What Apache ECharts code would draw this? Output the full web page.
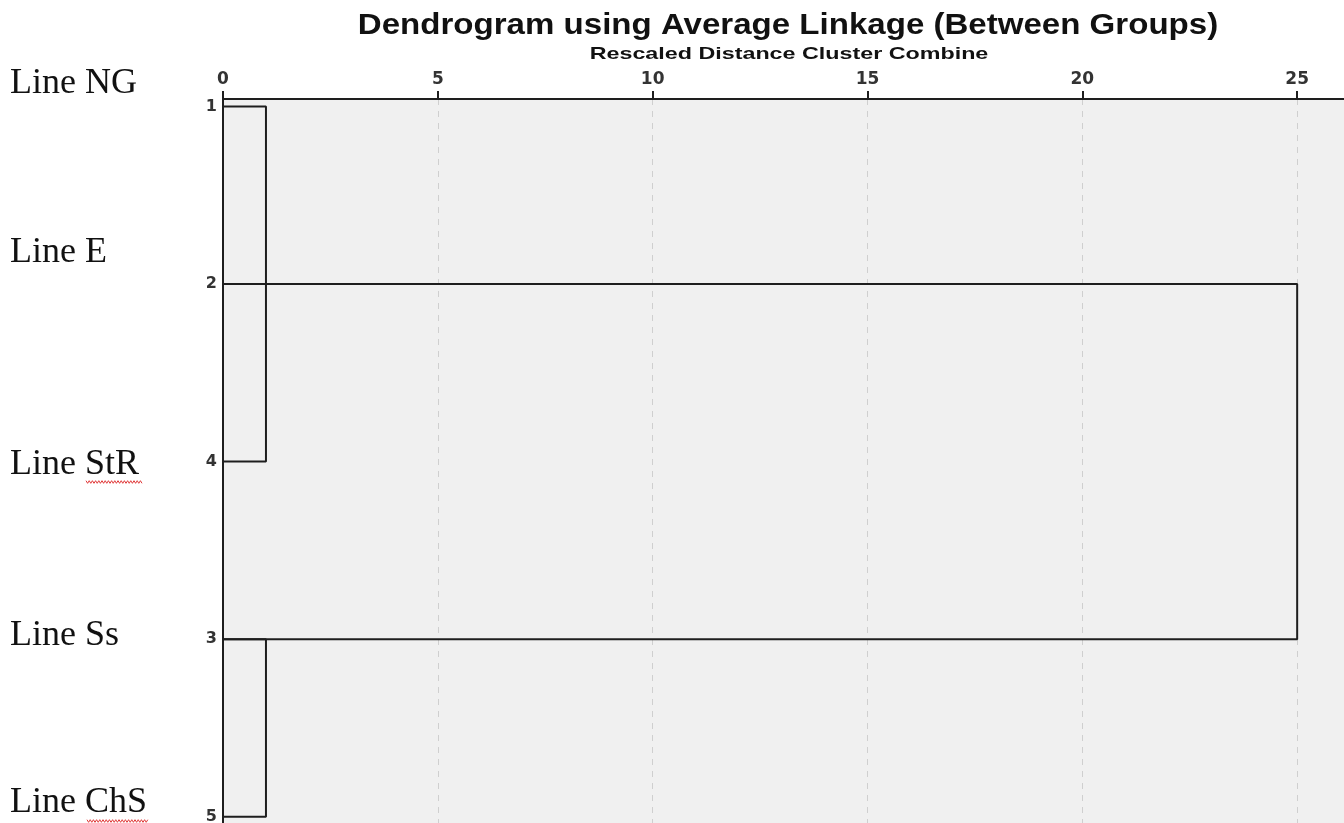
<!DOCTYPE html>
<html>
<head>
<meta charset="utf-8">
<title>Dendrogram</title>
<script src="https://cdn.jsdelivr.net/npm/echarts@6/dist/echarts.min.js"></script>
<style>
	html, body { margin: 0; padding: 0; background: #fff; }
	#chart { width: 1344px; height: 823px; }
</style>
</head>
<body>
<div id="chart"></div>
<script>
	// case ids in dendrogram order (top to bottom) and their names
	const caseIds = ['1', '2', '4', '3', '5']
	const caseNames = ['Line NG', 'Line E', 'Line StR', 'Line Ss', 'Line ChS']
	// rescaled distance ticks
	const distTicks = [0, 5, 10, 15, 20, 25]
	// merges: rows (index in caseIds) joined, at rescaled distance
	const mergeRowsA = [0, 3, 1]
	const mergeRowsB = [2, 4, 3]
	const mergeDist = [1.0, 1.0, 25]

	const chart = echarts.init(document.getElementById('chart'), null, { renderer: 'canvas' })

	const series = mergeDist.map((d, i) => {
		return {
			type: 'line',
			showSymbol: false,
			silent: true,
			lineStyle: { color: '#1e1e1e', width: 2 },
			data: [
				[0, mergeRowsA[i]],
				[d, mergeRowsA[i]],
				[d, mergeRowsB[i]],
				[0, mergeRowsB[i]]
			],
			z: 5
		}
	})

	function wavy(x0, x1, y) {
		let pts = []
		let i = 0
		for (let x = x0; x <= x1; x += 1.6) {
			pts.push([x, y + (i % 2 ? 1.3 : -1.3)])
			i++
		}
		return pts
	}

	// left-hand case names (pasted labels in the original)
	const nameY = [84, 253, 465, 636, 803]
	const graphics = caseNames.map((name, i) => {
		return {
			type: 'text',
			x: 10,
			y: nameY[i],
			style: {
				text: name,
				font: '36px "Liberation Serif", "Times New Roman", serif',
				fill: '#111',
				textAlign: 'left',
				textVerticalAlign: 'middle'
			}
		}
	})

	graphics.push({
		type: 'text',
		x: 788,
		y: 26,
		scaleX: 1.14,
		style: {
			text: 'Dendrogram using Average Linkage (Between Groups)',
			font: 'bold 29px "Liberation Sans", Arial, sans-serif',
			fill: '#111',
			textAlign: 'center',
			textVerticalAlign: 'middle'
		}
	})
	graphics.push({
		type: 'text',
		x: 789,
		y: 54,
		scaleX: 1.37,
		style: {
			text: 'Rescaled Distance Cluster Combine',
			font: 'bold 17px "Liberation Sans", Arial, sans-serif',
			fill: '#111',
			textAlign: 'center',
			textVerticalAlign: 'middle'
		}
	})
	graphics.push({
		type: 'polyline',
		shape: { points: wavy(86, 142, 482) },
		style: { stroke: '#e03a3a', lineWidth: 1, fill: null }
	})
	graphics.push({
		type: 'polyline',
		shape: { points: wavy(87, 149, 821) },
		style: { stroke: '#e03a3a', lineWidth: 1, fill: null }
	})

	chart.setOption({
		animation: false,
		grid: {
			left: 223,
			top: 99,
			right: 0,
			bottom: 0,
			containLabel: false,
			outerBoundsMode: 'none',
			show: true,
			backgroundColor: '#f0f0f0',
			borderWidth: 0
		},
		xAxis: {
			type: 'value',
			position: 'top',
			min: 0,
			max: 26.09,
			interval: 5,
			axisLine: { show: true, onZero: false, lineStyle: { color: '#1e1e1e', width: 2 } },
			axisTick: {
				show: true,
				length: 8,
				customValues: distTicks,
				lineStyle: { color: '#1e1e1e', width: 2 }
			},
			axisLabel: {
				customValues: distTicks,
				margin: 11,
				color: '#333',
				fontSize: 17,
				fontWeight: 'bold',
				fontFamily: '"DejaVu Sans", Arial, sans-serif'
			},
			splitLine: {
				show: true,
				lineStyle: { color: '#cfcfcf', type: [6, 6], width: 1 }
			}
		},
		yAxis: {
			type: 'value',
			inverse: true,
			min: -0.042,
			max: 4.035,
			axisLine: { show: true, onZero: false, lineStyle: { color: '#1e1e1e', width: 2 } },
			axisTick: { show: false },
			axisLabel: {
				customValues: [0, 1, 2, 3, 4],
				formatter: (v) => caseIds[v],
				margin: 6,
				color: '#333',
				fontSize: 16,
				fontWeight: 'bold',
				fontFamily: '"DejaVu Sans", Arial, sans-serif'
			},
			splitLine: { show: false }
		},
		graphic: graphics,
		series: series
	})
</script>
</body>
</html>
